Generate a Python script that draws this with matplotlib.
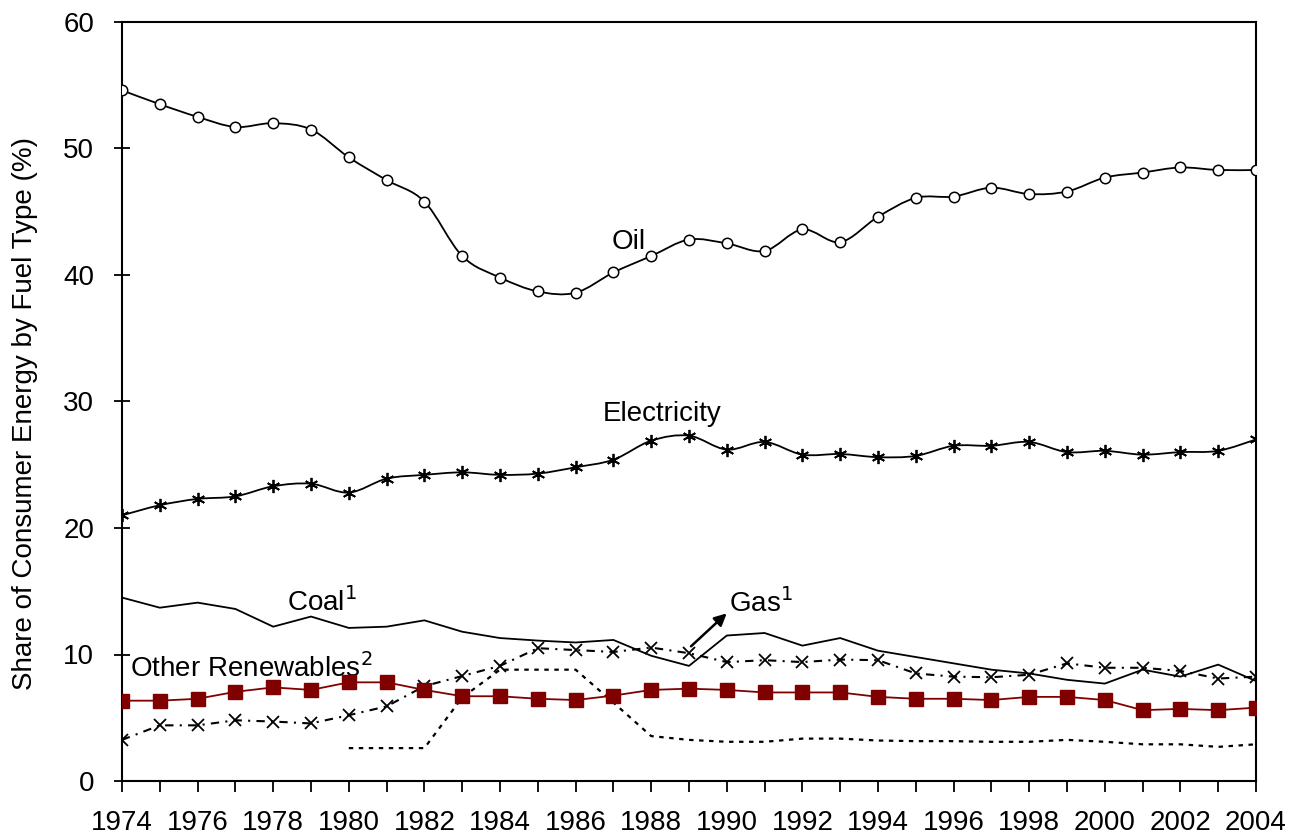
import matplotlib
matplotlib.use("Agg")
import matplotlib.pyplot as plt
import numpy as np
from matplotlib.path import Path
from matplotlib.patches import PathPatch

plt.rcParams['font.family'] = ['Liberation Sans', 'DejaVu Sans']

# Data (share of consumer energy, %)
years = list(range(1974, 2005))

oil = [54.6, 53.5, 52.5, 51.7, 52.0, 51.5, 49.3, 47.5, 45.8, 41.5,
       39.8, 38.7, 38.6, 40.2, 41.5, 42.8, 42.5, 41.9, 43.6, 42.6,
       44.6, 46.1, 46.2, 46.9, 46.4, 46.6, 47.7, 48.1, 48.5, 48.3, 48.3]

electricity = [21.0, 21.8, 22.3, 22.5, 23.3, 23.5, 22.8, 23.9, 24.2, 24.4,
               24.2, 24.3, 24.8, 25.4, 26.9, 27.3, 26.2, 26.8, 25.8, 25.85,
               25.6, 25.7, 26.5, 26.5, 26.8, 26.0, 26.1, 25.8, 26.0, 26.1, 27.0]

coal = [14.5, 13.7, 14.1, 13.6, 12.2, 13.0, 12.1, 12.2, 12.7, 11.8,
        11.3, 11.1, 10.95, 11.15, 9.9, 9.1, 11.5, 11.7, 10.7, 11.3,
        10.3, 9.8, 9.3, 8.8, 8.5, 8.0, 7.7, 8.8, 8.25, 9.2, 7.9]

gas = [3.25, 4.4, 4.4, 4.8, 4.7, 4.55, 5.2, 5.9, 7.5, 8.3,
       9.1, 10.5, 10.35, 10.2, 10.55, 10.1, 9.4, 9.55, 9.4, 9.6,
       9.55, 8.5, 8.25, 8.2, 8.4, 9.3, 8.95, 8.95, 8.7, 8.1, 8.25]

renewables = [6.35, 6.35, 6.5, 7.05, 7.4, 7.2, 7.8, 7.8, 7.2, 6.7,
              6.7, 6.5, 6.4, 6.75, 7.2, 7.3, 7.2, 7.0, 7.0, 7.0,
              6.65, 6.5, 6.5, 6.4, 6.65, 6.65, 6.4, 5.6, 5.7, 5.6, 5.8]

# unlabelled dotted series, starts in 1980
dotted_years = list(range(1980, 2005))
dotted = [2.6, 2.6, 2.6, 6.6, 8.8, 8.8, 8.8, 6.2, 3.55, 3.25,
          3.1, 3.1, 3.35, 3.35, 3.2, 3.15, 3.15, 3.1, 3.1, 3.25,
          3.1, 2.9, 2.9, 2.7, 2.9]

FS = 20


def smooth_path(xs, ys):
    """Catmull-Rom style bezier through the points (like Excel's smoothed line)."""
    pts = np.column_stack([xs, ys]).astype(float)
    n = len(pts)
    verts = [pts[0]]
    codes = [Path.MOVETO]
    for i in range(n - 1):
        p0 = pts[i - 1] if i > 0 else pts[i]
        p1 = pts[i]
        p2 = pts[i + 1]
        p3 = pts[i + 2] if i + 2 < n else pts[i + 1]
        c1 = p1 + (p2 - p0) / 6.0
        c2 = p2 - (p3 - p1) / 6.0
        verts += [c1, c2, p2]
        codes += [Path.CURVE4] * 3
    return Path(verts, codes)


fig = plt.figure(figsize=(12.9, 8.35), dpi=100)
ax = fig.add_axes([122 / 1290, 54 / 835, 1134 / 1290, 759 / 835])

# Oil - smoothed with open circles
ax.add_patch(PathPatch(smooth_path(years, oil), fill=False, edgecolor='black', lw=1.3, zorder=3))
ax.plot(years, oil, linestyle='none', marker='o', markersize=7.5,
        markerfacecolor='white', markeredgecolor='black', markeredgewidth=1.1, zorder=4)

# Electricity - smoothed with asterisks
ax.add_patch(PathPatch(smooth_path(years, electricity), fill=False, edgecolor='black', lw=1.3, zorder=3))
ax.plot(years, electricity, linestyle='none', marker=(6, 2, 0), markersize=9.5,
        markeredgecolor='black', markeredgewidth=1.3, zorder=4)

# Coal
ax.plot(years, coal, color='black', lw=1.3, zorder=3)

# Gas
ax.plot(years, gas, color='black', lw=1.5, linestyle=(0, (4, 3, 1, 3)),
        marker='x', markersize=8.5, markeredgewidth=1.3, zorder=3)

# dotted series
ax.plot(dotted_years, dotted, color='black', lw=1.6, linestyle=(0, (2, 2.5)), zorder=3)

# Other renewables
ax.plot(years, renewables, color='#800000', lw=1.3, marker='s', markersize=9.5,
        markerfacecolor='#800000', markeredgecolor='#800000', zorder=4)

ax.set_xlim(1974, 2004)
ax.set_ylim(0, 60)
ax.set_yticks(range(0, 61, 10))
ax.set_xticks(range(1974, 2005, 2))
ax.set_xticks(range(1975, 2004, 2), minor=True)

ax.tick_params(axis='y', direction='inout', length=12, width=1.3, labelsize=FS, pad=14)
ax.tick_params(axis='x', which='both', direction='out', length=8, width=1.3, labelsize=FS, pad=13)
for s in ax.spines.values():
    s.set_linewidth(1.5)

# annotations
ax.text(1987.4, 42.6, 'Oil', fontsize=FS, ha='center', va='center')
ax.text(1988.3, 29.0, 'Electricity', fontsize=FS, ha='center', va='center')
ax.text(1978.37, 14.15, 'Coal$^1$', fontsize=FS, ha='left', va='center')
ax.text(1990.05, 14.1, 'Gas$^1$', fontsize=FS, ha='left', va='center')
ax.text(1974.2, 8.9, 'Other Renewables$^2$', fontsize=FS, ha='left', va='center')
ax.annotate('', xy=(1990.05, 13.4), xytext=(1989.0, 10.5),
            arrowprops=dict(arrowstyle='-|>', color='black', lw=1.8, mutation_scale=18))

fig.text(25 / 1290, 1 - 413 / 835, 'Share of Consumer Energy by Fuel Type (%)',
         rotation=90, ha='center', va='center', fontsize=FS)

fig.savefig('out.png', dpi=100)
